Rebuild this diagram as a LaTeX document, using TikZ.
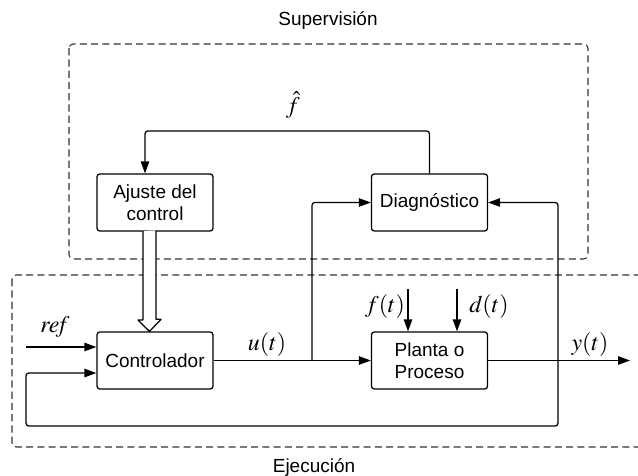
\documentclass[tikz,border=0pt]{standalone}
\usepackage{mathptmx}
\usepackage[no-math]{fontspec}
\setmainfont{Liberation Sans}
\usetikzlibrary{arrows.meta}

\tikzset{
  block/.style={draw, rounded corners=2pt, line width=0.9pt, minimum width=2.9cm, minimum height=1.425cm, align=center, font=\fontsize{13.5}{15.6}\selectfont},
  zone/.style={draw=black!80, dash pattern=on 5pt off 3pt, rounded corners=3pt, line width=0.75pt},
  signal/.style={line width=0.9pt, -{Triangle[length=8.5pt,width=6pt]}},
  wire/.style={line width=0.9pt, rounded corners=2pt},
  hollow/.style={line width=0.9pt, fill=white, line join=round},
  lbl/.style={font=\fontsize{17}{20}\selectfont},
  zonetitle/.style={font=\fontsize{13.5}{16}\selectfont}
}

\begin{document}
\begin{tikzpicture}[x=0.025cm,y=-0.025cm]
\clip (0,0) rectangle (638,475);
% zonas
\draw[zone] (69,44) rectangle (588,259);
\draw[zone] (12,275) rectangle (660,447);
\node[zonetitle] (sup) at (328,20) {Supervisión};
\node[zonetitle] (eje) at (314,467) {Ejecución};

% bloques
\node[block] (ajuste) at (155,202.5) {Ajuste del\\control};
\node[block] (diag) at (429.5,202.5) {Diagnóstico};
\node[block] (ctrl) at (155,360.5) {Controlador};
\node[block] (planta) at (429.5,360.5) {Planta o\\Proceso};

\coordinate (ref_in) at (26,347);
\coordinate (u_node) at (312,360.5);
\coordinate (y_node) at (558,360.5);
\coordinate (y_out) at (630,360.5);
\coordinate (fb) at (26,426);
\coordinate (f_in) at (408,289);
\coordinate (d_in) at (457,289);
\coordinate (fhat_c) at (145,131);
\coordinate (adj_out) at (149.5,231);

% senales
\draw[signal] (ref_in) -- (ref_in -| ctrl.west);
\draw[signal] (ctrl.east) -- (planta.west);
\draw[signal] (planta.east) -- (y_out);
\draw[signal, wire] (u_node) |- (diag.west);
\draw[signal, wire] (y_node) |- (diag.east);
\draw[signal, wire] (y_node) |- (fb) |- ([yshift=-0.3125cm]ctrl.west);
\draw[signal, wire] (diag.north) |- (fhat_c) -- (fhat_c |- ajuste.north);
\draw[signal] (f_in) -- (f_in |- planta.north);
\draw[signal] (d_in) -- (d_in |- planta.north);
\draw[hollow] (adj_out) ++(-6.5,0) -- ++(0,89) -- ++(-5,0) -- (adj_out |- ctrl.north)
   -- ++(11.5,-12) -- ++(-5,0) -- ++(0,-89);

% etiquetas
\node[lbl] (fhat) at (293,105) {$\hat{f}$};
\node[lbl] (ref_lbl) at (55,327) {$\mathit{ref}$};
\node[lbl] (u_lbl) at (267,345) {$u(t)$};
\node[lbl] (y_lbl) at (590,345) {$y(t)$};
\node[lbl] (f_lbl) at (385,307) {$f(t)$};
\node[lbl] (d_lbl) at (489,307) {$d(t)$};
\end{tikzpicture}
\end{document}
